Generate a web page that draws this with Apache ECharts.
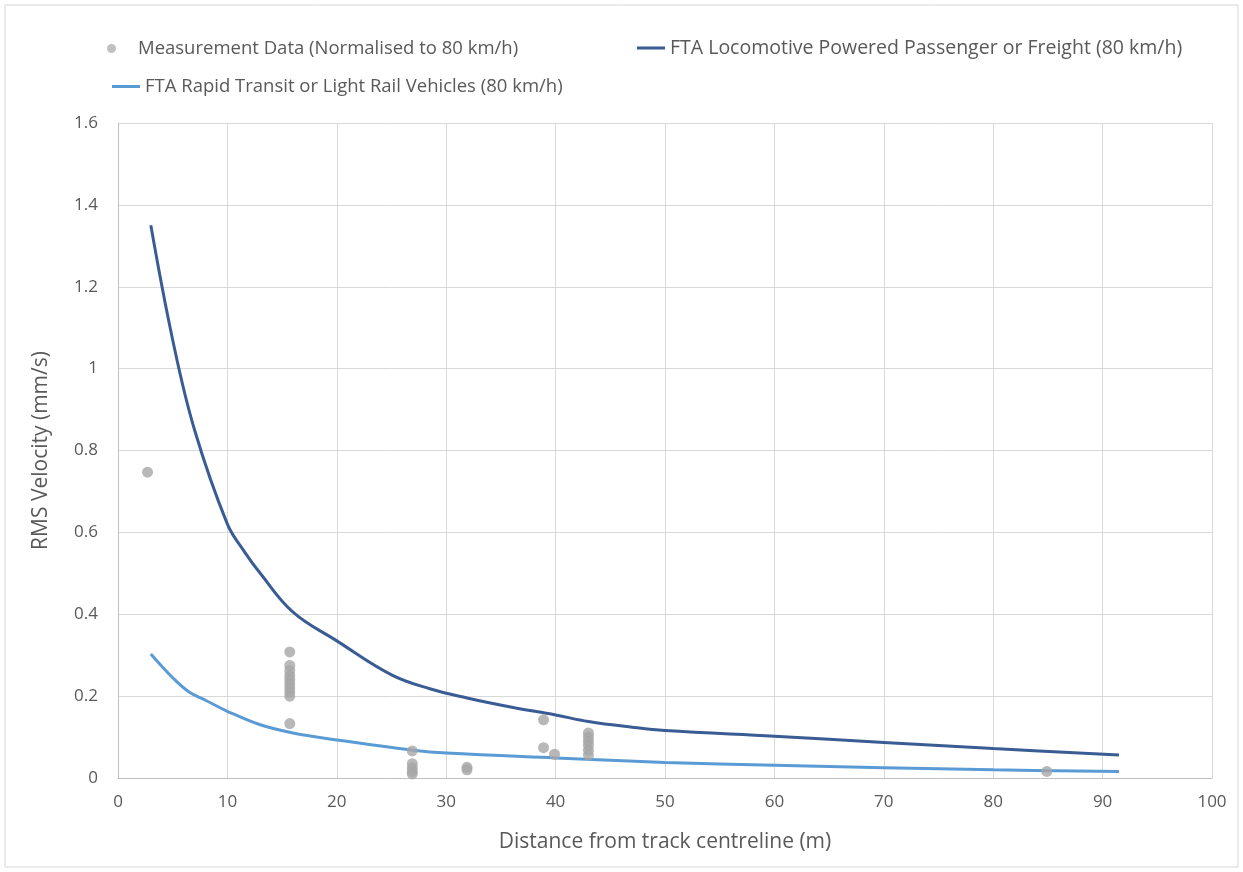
<!DOCTYPE html>
<html>
<head>
<meta charset="utf-8">
<script src="https://cdn.jsdelivr.net/npm/echarts@6/dist/echarts.min.js"></script>
<style>
html,body{margin:0;padding:0;background:#fff;}
#chart{width:1243px;height:872px;}
</style>
</head>
<body>
<div id="chart"></div>
<script>
const xTicks = [0, 10, 20, 30, 40, 50, 60, 70, 80, 90, 100];
const yTicks = [0, 0.2, 0.4, 0.6, 0.8, 1, 1.2, 1.4, 1.6];

const measurementX = [2.7, 15.7, 15.7, 15.7, 15.7, 15.7, 15.7, 15.7, 15.7, 15.7, 15.7,
  26.9, 26.9, 26.9, 26.9, 26.9, 31.9, 31.9, 38.9, 38.9, 39.9,
  43, 43, 43, 43, 43, 43, 84.9];
const measurementY = [0.747, 0.308, 0.275, 0.262, 0.25, 0.24, 0.23, 0.22, 0.21, 0.2, 0.133,
  0.066, 0.035, 0.025, 0.016, 0.01, 0.026, 0.02, 0.142, 0.074, 0.058,
  0.11, 0.1, 0.09, 0.08, 0.068, 0.056, 0.016];

const locoX = [3, 5, 7, 10, 11.5, 13, 16, 20, 25, 28.5, 32, 36, 40, 43, 47, 50, 60, 70, 80, 91.5];
const locoY = [1.35, 1.07, 0.85, 0.62, 0.555, 0.5, 0.405, 0.335, 0.252, 0.218, 0.195, 0.173, 0.154, 0.138, 0.124, 0.116, 0.102, 0.087, 0.072, 0.056];

const railX = [3, 5, 6.5, 8, 10, 13, 16, 20, 27, 30, 40, 50, 60, 70, 80, 91.5];
const railY = [0.303, 0.245, 0.21, 0.19, 0.163, 0.13, 0.11, 0.093, 0.068, 0.061, 0.049, 0.038, 0.031, 0.025, 0.02, 0.016];

const names = [
  'Measurement Data (Normalised to 80 km/h)',
  'FTA Locomotive Powered Passenger or Freight (80 km/h)',
  'FTA Rapid Transit or Light Rail Vehicles (80 km/h)'
];

const zip = (a, b) => a.map((v, i) => [v, b[i]]);
const font = '"Open Sans", "Liberation Sans", sans-serif';

const chart = echarts.init(document.getElementById('chart'));
const legendText = { color: '#595959', fontSize: 18.5, fontFamily: font };
chart.setOption({
  animation: false,
  graphic: [{
    type: 'rect', shape: { x: 5, y: 5, width: 1233, height: 862 },
    style: { fill: 'none', stroke: '#d6d6d6', lineWidth: 1 }, silent: true
  }],
  legend: [
    { data: [{ name: names[0], icon: 'circle' }], left: 102, top: 34, itemWidth: 9, itemHeight: 9,
      itemStyle: { color: '#b0b0b0' },
      textStyle: Object.assign({ padding: [0, 0, 0, 17] }, legendText) },
    { data: [{ name: names[1], icon: 'rect' }], left: 632, top: 33, itemWidth: 28, itemHeight: 3,
      textStyle: Object.assign({}, legendText, { fontSize: 19.5 }) },
    { data: [{ name: names[2], icon: 'rect' }], left: 107, top: 72, itemWidth: 28, itemHeight: 3, textStyle: legendText }
  ],
  grid: { left: 118, right: 31, top: 123, bottom: 94, containLabel: false },
  xAxis: {
    type: 'value', min: xTicks[0], max: xTicks[xTicks.length - 1], interval: 10,
    name: 'Distance from track centreline (m)', nameLocation: 'middle', nameGap: 54,
    nameTextStyle: { color: '#595959', fontSize: 21, fontFamily: font },
    axisLine: { show: true, lineStyle: { color: '#bfbfbf' } },
    axisTick: { show: false },
    axisLabel: { color: '#595959', fontSize: 17, fontFamily: font, margin: 16 },
    splitLine: { show: true, lineStyle: { color: '#d9d9d9' } }
  },
  yAxis: {
    type: 'value', min: yTicks[0], max: yTicks[yTicks.length - 1], interval: 0.2,
    name: 'RMS Velocity (mm/s)', nameLocation: 'middle', nameGap: 66, nameRotate: 90,
    nameTextStyle: { color: '#595959', fontSize: 21, fontFamily: font },
    axisLine: { show: true, lineStyle: { color: '#bfbfbf' } },
    axisTick: { show: false },
    axisLabel: { color: '#595959', fontSize: 17, fontFamily: font, margin: 20,
      formatter: v => String(Math.round(v * 10) / 10) },
    splitLine: { show: true, lineStyle: { color: '#d9d9d9' } }
  },
  series: [
    {
      name: names[0], type: 'scatter', data: zip(measurementX, measurementY),
      symbol: 'circle', symbolSize: 11,
      itemStyle: { color: '#a6a6a6' }, z: 3
    },
    {
      name: names[1], type: 'line', data: zip(locoX, locoY),
      showSymbol: false, symbol: 'none', smooth: 0.4,
      lineStyle: { color: '#3a5c94', width: 3 }, itemStyle: { color: '#3a5c94' }, z: 2
    },
    {
      name: names[2], type: 'line', data: zip(railX, railY),
      showSymbol: false, symbol: 'none', smooth: 0.4,
      lineStyle: { color: '#5b9bd5', width: 3 }, itemStyle: { color: '#5b9bd5' }, z: 2
    }
  ]
});
</script>
</body>
</html>
